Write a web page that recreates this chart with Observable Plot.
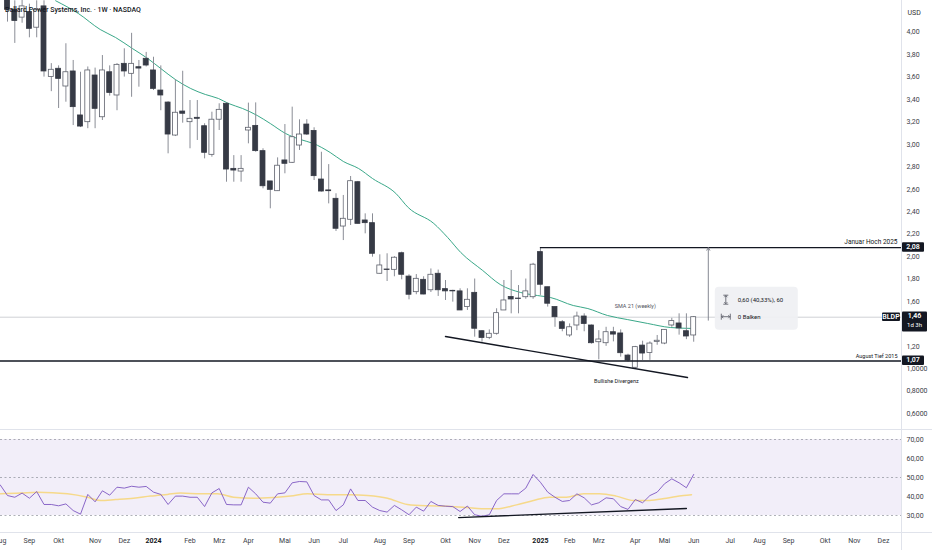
<!DOCTYPE html>
<html><head><meta charset="utf-8">
<script src="https://cdn.jsdelivr.net/npm/d3@7"></script>
<script src="https://cdn.jsdelivr.net/npm/@observablehq/plot@0.6"></script>
<style>
body{margin:0;background:#fff;font-family:Roboto,sans-serif;}
#wrap{position:relative;width:932px;height:550px;overflow:hidden;background:#fff;}
#price{position:absolute;left:0;top:0;}
#rsi{position:absolute;left:0;top:430px;}
#title{position:absolute;left:5px;top:6px;font-size:7px;line-height:8px;font-weight:500;color:#131722;white-space:nowrap;}
.sep{position:absolute;background:#e0e3eb;}
</style></head><body>
<div id="wrap">
  <div class="sep" style="left:0;top:429px;width:932px;height:1px"></div>
  <div class="sep" style="left:0;top:532px;width:932px;height:1px"></div>
  <div class="sep" style="left:901px;top:0;width:1px;height:550px"></div>
  <div id="price"></div>
  <div id="rsi"></div>
  <div id="title">Ballard Power Systems, Inc. · 1W · NASDAQ</div>
</div>
<script>
// ---------- data ----------
const firstWeek = "2023-08-14"; // Monday of the first visible weekly candle
const opens  = [4.30,4.20,4.13,4.18,4.04,4.23,3.60,3.674,3.516,3.65,3.258,3.198,3.614,3.242,3.643,3.436,3.718,3.629,3.688,3.763,3.659,3.48,3.373,3.079,3.293,3.198,3.237,3.162,2.907,3.22,3.362,2.782,2.758,3.124,3.165,2.94,2.67,2.583,2.857,2.836,2.99,3.177,3.12,2.687,2.59,2.515,2.268,2.328,2.663,2.322,2.298,1.847,1.885,1.882,2.03,1.822,1.683,1.793,1.70,1.847,1.71,1.695,1.69,1.55,1.677,1.335,1.276,1.312,1.52,1.64,1.626,1.638,1.638,2.04,1.727,1.55,1.415,1.297,1.386,1.466,1.386,1.237,1.228,1.326,1.315,1.118,1.009,1.207,1.14,1.24,1.225,1.386,1.404,1.335,1.297];
const highs  = [4.36,4.28,4.30,4.25,4.28,4.28,3.72,3.70,3.897,3.748,3.643,3.69,3.68,3.792,3.70,3.72,3.852,3.99,3.748,3.82,3.777,3.70,3.38,3.576,3.652,3.391,3.391,3.184,3.287,3.362,3.37,2.90,2.90,3.368,3.37,2.961,2.67,2.88,3.177,3.332,3.219,3.22,3.148,2.93,2.82,2.56,2.545,2.714,2.67,2.381,2.381,2.016,2.025,2.0,2.04,1.838,1.84,1.82,1.89,1.88,1.787,1.70,1.713,1.713,1.80,1.34,1.347,1.535,1.787,1.876,1.742,1.80,1.94,2.08,1.727,1.55,1.43,1.40,1.505,1.49,1.39,1.34,1.37,1.37,1.347,1.13,1.20,1.246,1.24,1.297,1.35,1.45,1.49,1.49,1.466];
const lows   = [4.09,3.90,4.08,3.95,3.95,3.60,3.47,3.32,3.376,3.168,3.15,3.14,3.14,3.213,3.43,3.30,3.60,3.42,3.51,3.69,3.48,3.30,2.916,3.07,3.189,2.961,3.035,2.871,2.886,3.124,2.663,2.663,2.663,3.005,2.93,2.604,2.426,2.58,2.738,2.83,2.946,3.08,2.678,2.575,2.47,2.224,2.143,2.277,2.29,2.203,1.995,1.845,1.778,1.82,1.793,1.615,1.66,1.66,1.68,1.645,1.609,1.594,1.52,1.52,1.282,1.237,1.26,1.30,1.52,1.49,1.49,1.62,1.62,1.654,1.55,1.37,1.33,1.28,1.34,1.33,1.22,1.08,1.20,1.24,1.104,1.06,1.0,1.074,1.075,1.21,1.215,1.37,1.30,1.26,1.237];
const closes = [4.20,4.10,4.23,4.03,4.20,3.65,3.665,3.584,3.643,3.332,3.159,3.659,3.317,3.659,3.459,3.709,3.650,3.718,3.676,3.703,3.495,3.436,3.088,3.282,3.273,3.228,3.228,2.925,3.22,3.308,2.776,2.767,2.782,3.148,2.94,2.627,2.595,2.81,2.827,3.064,3.088,3.088,2.717,2.58,2.583,2.248,2.337,2.672,2.292,2.298,2.025,1.921,1.88,1.99,1.838,1.66,1.802,1.662,1.838,1.70,1.69,1.69,1.52,1.615,1.357,1.275,1.312,1.496,1.609,1.618,1.622,1.69,1.928,1.749,1.58,1.46,1.356,1.37,1.466,1.40,1.228,1.261,1.326,1.305,1.139,1.074,1.193,1.136,1.225,1.25,1.347,1.425,1.36,1.288,1.46];

// SMA 21 (weekly): week offset from firstWeek, value
const smaWeeks  = [6.6,9.7,12.7,14.8,17.1,19.2,21.0,23.0,25.1,27.1,28.9,30.3,32.2,34.2,36.0,38.1,40.1,41.9,44.2,46.0,48.1,50.0,53.2,54.9,58.4,60.3,62.1,65.1,67.5,70.3,72.6,74.4,77.5,79.5,82.2,84.9,87.7,90.8,93.6];
const smaValues = [4.28,4.167,4.024,3.953,3.855,3.766,3.676,3.578,3.498,3.445,3.409,3.364,3.320,3.258,3.186,3.097,3.044,3.008,2.928,2.848,2.785,2.696,2.563,2.437,2.295,2.17,2.036,1.876,1.751,1.68,1.653,1.635,1.564,1.537,1.475,1.439,1.404,1.368,1.36];

// RSI (14) per week, first value belongs to week -1
const rsiFirstWeek = -1;
const rsiValues = [46.1,40.5,39.6,41.8,39.1,42.6,35.8,35.8,35.1,36.1,32.6,30.7,41.1,37.2,43.0,40.7,44.9,44.4,45.4,44.9,45.3,42.3,41.1,35.8,40.2,40.2,39.6,39.6,34.7,41.9,44.2,35.8,35.6,35.6,44.9,41.4,37.0,36.5,41.4,41.9,47.2,47.9,47.7,40.5,38.2,38.2,32.6,35.6,44.0,37.9,37.9,34.4,32.6,31.8,35.3,33.0,30.4,34.4,32.3,37.4,35.3,34.9,34.7,32.1,35.0,30.4,29.6,30.4,37.9,41.4,41.4,41.4,44.4,51.6,47.5,42.3,39.6,37.4,37.9,41.4,39.3,35.6,36.7,39.3,38.8,34.7,33.2,38.4,36.7,40.5,42.3,46.7,49.3,47.2,44.6,51.6];
// RSI moving average
const rsiMaWeeks  = [-0.96,1.78,4.11,8.22,10.96,12.74,14.79,17.26,19.59,21.92,23.7,26.44,28.77,30.96,33.7,36.44,38.77,41.1,43.84,46.99,49.32,52.05,54.79,57.53,60.27,62.88,64.93,66.99,69.73,72.05,74.25,76.58,78.9,81.1,83.4,85.75,87.95,90.27,92.6,93.7];
const rsiMaValues = [41.4,41.8,42.3,41.4,39.6,37.9,38.4,39.1,40.2,41.1,41.8,41.4,41.4,39.6,39.1,39.5,40.2,41.4,40.9,40.9,40.5,39.1,35.8,35.1,34.9,34.2,33.5,33.5,35.6,37.9,39.6,39.6,41.4,41.4,40.2,37.9,37.9,39.1,40.5,40.9];

// annotations
const janHigh = 2.08, janHighWeek = 73;
const augLow = 1.07;
const lastPrice = 1.46;
const measureWeek = 96;
const divWeeks = [60.0, 93.15], divPrices = [1.288, 0.922];
const rsiDivWeeks = [61.8, 93.0], rsiDivValues = [28.9, 33.7];
const rsiLevels = [70, 50, 30];

// ticks
const priceTicks = [4.0,3.8,3.6,3.4,3.2,3.0,2.8,2.6,2.4,2.2,2.0,1.8,1.6,1.2,1.0,0.8,0.6];
const priceTickLabels = ["4,00","3,80","3,60","3,40","3,20","3,00","2,80","2,60","2,40","2,20","2,00","1,80","1,60","1,20","1,0000","0,8000","0,6000"];
const rsiTicks = [70,60,50,40,30];
const rsiTickLabels = ["70,00","60,00","50,00","40,00","30,00"];
const monthTickDates = ["2023-08-07","2023-09-04","2023-10-02","2023-11-06","2023-12-04","2024-01-01","2024-02-05","2024-03-04","2024-04-01","2024-05-06","2024-06-03","2024-07-01","2024-08-05","2024-09-02","2024-10-07","2024-11-04","2024-12-02","2025-01-06","2025-02-03","2025-03-03","2025-04-07","2025-05-05","2025-06-02","2025-07-07","2025-08-04","2025-09-01","2025-10-06","2025-11-03","2025-12-01"];
const monthTickLabels = ["Aug","Sep","Okt","Nov","Dez","2024","Feb","Mrz","Apr","Mai","Jun","Jul","Aug","Sep","Okt","Nov","Dez","2025","Feb","Mrz","Apr","Mai","Jun","Jul","Aug","Sep","Okt","Nov","Dez"];

// ---------- helpers ----------
const t0 = Date.parse(firstWeek + "T00:00:00Z");
const WEEK = 7 * 864e5;
const wk = w => new Date(t0 + w * WEEK);
const W = 932, PLOT_RIGHT = 901, PX_PER_WEEK = 7.3, FIRST_X = 7;
const xDomain = [wk(-FIRST_X / PX_PER_WEEK), wk((PLOT_RIGHT - FIRST_X) / PX_PER_WEEK)];
const halfBody = 0.34;

const candles = opens.map((o, i) => ({
  date: wk(i), x1: wk(i - halfBody), x2: wk(i + halfBody),
  open: o, high: highs[i], low: lows[i], close: closes[i], up: closes[i] >= o
}));
const sma = smaWeeks.map((w, i) => ({date: wk(w), v: smaValues[i]}));
const rsi = rsiValues.map((v, i) => ({date: wk(rsiFirstWeek + i), v}));
const rsiMa = rsiMaWeeks.map((w, i) => ({date: wk(w), v: rsiMaValues[i]}));
const div = divWeeks.map((w, i) => ({date: wk(w), v: divPrices[i]}));
const rsiDiv = rsiDivWeeks.map((w, i) => ({date: wk(w), v: rsiDivValues[i]}));
const tickDates = monthTickDates.map(s => new Date(s + "T00:00:00Z"));
const tickLabelMap = new Map(tickDates.map((d, i) => [+d, monthTickLabels[i]]));

const FONT = "Roboto, 'Noto Sans', sans-serif";
const DARK = "#363a45", WICK = "#8a8d96";

// price scale geometry: 4,00 at 31.7px, 112.2px per 1.00
const yTopPrice = 4 + 31.7 / 112.2;
const yBottomPrice = 4 - (430 - 31.7) / 112.2;

// point on divergence line for its label
const divLabelWeek = 83.4;
const divLabelPrice = divPrices[0] + (divPrices[1] - divPrices[0]) * (divLabelWeek - divWeeks[0]) / (divWeeks[1] - divWeeks[0]);
const smaLabelIdx = smaWeeks.findIndex(w => w >= 84.9);

const price = Plot.plot({
  width: W, height: 430,
  marginLeft: 0, marginRight: W - PLOT_RIGHT, marginTop: 0, marginBottom: 0,
  style: {fontFamily: FONT, fontSize: "7px", color: "#333", background: "transparent", overflow: "visible"},
  x: {type: "utc", domain: xDomain, axis: null},
  y: {domain: [yBottomPrice, yTopPrice], axis: null},
  marks: [
    Plot.ruleY([lastPrice], {stroke: "#cfd1d6", strokeWidth: 1}),
    Plot.line(sma, {x: "date", y: "v", stroke: "#3aa889", strokeWidth: 1, curve: "monotone-x", clip: true}),
    Plot.ruleX(candles, {x: "date", y1: "low", y2: "high", stroke: WICK, strokeWidth: 1, clip: true}),
    Plot.rect(candles, {x1: "x1", x2: "x2", y1: "open", y2: "close",
      fill: d => d.up ? "#ffffff" : DARK, stroke: d => d.up ? "#5d606b" : DARK, strokeWidth: 0.8, clip: true}),
    Plot.ruleY([janHigh], {x1: () => wk(janHighWeek), x2: () => xDomain[1], stroke: "#131722", strokeWidth: 1.4}),
    Plot.ruleY([augLow], {stroke: "#131722", strokeWidth: 1.4}),
    Plot.line(div, {x: "date", y: "v", stroke: "#131722", strokeWidth: 1.4}),
    Plot.arrow([{w: wk(measureWeek), a: lastPrice, b: janHigh}], {x1: "w", x2: "w", y1: "a", y2: "b",
      stroke: "#787b86", strokeWidth: 0.9, headLength: 5, insetStart: -3}),
    Plot.text(["Januar Hoch 2025"], {x: () => xDomain[1], y: () => janHigh, text: d => d,
      textAnchor: "end", dx: -4, dy: -6, fontSize: 6.5, fill: "#131722"}),
    Plot.text(["August Tief 2015"], {x: () => xDomain[1], y: () => augLow, text: d => d,
      textAnchor: "end", dx: -4, dy: -5, fontSize: 5.5, fill: "#131722"}),
    Plot.text(["SMA 21 (weekly)"], {x: () => wk(86), y: () => smaValues[smaLabelIdx], text: d => d,
      dy: -13, fontSize: 5.5, fill: "#50535e"}),
    Plot.text(["Bullishe Divergenz"], {x: () => wk(divLabelWeek), y: () => divLabelPrice, text: d => d,
      dy: 16, fontSize: 5.5, fill: "#131722"}),
    Plot.text(["USD"], {frameAnchor: "top-right", text: d => d, textAnchor: "start", dx: 6, dy: 10, fontSize: 7, fill: "#333"}),
    Plot.axisY(priceTicks, {anchor: "right", tickSize: 0, tickPadding: 5, fontSize: 7, fill: "#3b3e47",
      tickFormat: d => priceTickLabels[priceTicks.indexOf(d)]})
  ]
});
document.getElementById("price").appendChild(price);

// badges & measure tooltip drawn through the plot's scales
const syObj = price.scale("y"), sxObj = price.scale("x");
const Y = v => syObj.apply ? syObj.apply(v) : d3.scaleLinear(syObj.domain, syObj.range)(v);
const X = v => sxObj.apply ? sxObj.apply(v) : d3.scaleUtc(sxObj.domain, sxObj.range)(v);
const svg = d3.select(price);
function badge(yc, lines, x0, w, top, h) {
  const g = svg.append("g");
  g.append("rect").attr("x", x0).attr("y", yc + top).attr("width", w).attr("height", h)
    .attr("rx", 1).attr("fill", "#131722");
  lines.forEach((t, i) => {
    g.append("text").attr("x", x0 + w / 2).attr("y", yc + top + 6.7 + i * 9)
      .attr("text-anchor", "middle").attr("fill", "#fff")
      .attr("font-size", i ? 6 : 7).attr("font-weight", i ? 400 : 600)
      .attr("font-family", FONT).text(t);
  });
}
badge(Y(janHigh), ["2,08"], PLOT_RIGHT + 1, 22, -4.8, 9.5);
badge(Y(lastPrice), ["1,46", "1d 3h"], PLOT_RIGHT + 1, 25, -5.3, 20);
badge(Y(augLow), ["1,07"], PLOT_RIGHT + 1, 22, -5, 9.5);
badge(Y(lastPrice), ["BLDP"], PLOT_RIGHT - 19, 18, -4.3, 8.5);

// measure tool tooltip
const mx = X(wk(measureWeek)) + 7, my = Y(lastPrice) - 30;
const tip = svg.append("g").attr("font-family", FONT).attr("fill", "#131722").attr("text-anchor", "start");
tip.append("rect").attr("x", mx).attr("y", my).attr("width", 83).attr("height", 43).attr("rx", 4)
  .attr("fill", "#eff0f3").attr("fill-opacity", 0.92);
const ic = tip.append("g").attr("stroke", "#50535e").attr("stroke-width", 0.8).attr("fill", "none");
// vertical-range icon
const ix = mx + 11, iy = my + 13;
ic.append("path").attr("d", `M${ix-2.5},${iy-4.5}H${ix+2.5}M${ix-2.5},${iy+4.5}H${ix+2.5}M${ix},${iy-4}V${iy+4}M${ix-1.5},${iy-2.5}L${ix},${iy-4}L${ix+1.5},${iy-2.5}M${ix-1.5},${iy+2.5}L${ix},${iy+4}L${ix+1.5},${iy+2.5}`);
// bar-range icon
const jx = mx + 11, jy = my + 30;
ic.append("path").attr("d", `M${jx-4.5},${jy-3}V${jy+3}M${jx+4.5},${jy-3}V${jy+3}M${jx-4},${jy}H${jx+4}M${jx-2.5},${jy-1.5}L${jx-4},${jy}L${jx-2.5},${jy+1.5}M${jx+2.5},${jy-1.5}L${jx+4},${jy}L${jx+2.5},${jy+1.5}`);
tip.append("text").attr("x", mx + 23).attr("y", my + 15.2).attr("font-size", 6).text("0,60 (40,33%), 60");
tip.append("text").attr("x", mx + 23).attr("y", my + 32.2).attr("font-size", 6).text("0 Balken");

// ---------- RSI panel ----------
const rsiTopVal = 70 + 9 / 1.9, rsiBottomVal = 30 - 17 / 1.9;
const rsiPlot = Plot.plot({
  width: W, height: 120,
  marginLeft: 0, marginRight: W - PLOT_RIGHT, marginTop: 0, marginBottom: 18,
  style: {fontFamily: FONT, fontSize: "7px", color: "#333", background: "transparent", overflow: "visible"},
  x: {type: "utc", domain: xDomain},
  y: {domain: [rsiBottomVal, rsiTopVal], axis: null},
  marks: [
    Plot.rect([{lo: d3.min(rsiLevels), hi: d3.max(rsiLevels)}], {y1: "lo", y2: "hi", fill: "#7e57c2", fillOpacity: 0.1}),
    Plot.ruleY(rsiLevels, {stroke: "#8c8f99", strokeWidth: 0.7, strokeDasharray: "2,2.5"}),
    Plot.line(rsiMa, {x: "date", y: "v", stroke: "#f6d98a", strokeWidth: 1.5, curve: "monotone-x", clip: true}),
    Plot.line(rsi, {x: "date", y: "v", stroke: "#7e57c2", strokeWidth: 0.9, clip: true}),
    Plot.line(rsiDiv, {x: "date", y: "v", stroke: "#131722", strokeWidth: 1.4}),
    Plot.axisY(rsiTicks, {anchor: "right", tickSize: 0, tickPadding: 5, fontSize: 7, fill: "#3b3e47",
      tickFormat: d => rsiTickLabels[rsiTicks.indexOf(d)]}),
    Plot.axisX(tickDates, {anchor: "bottom", tickSize: 0, tickPadding: 6, fontSize: 7, fill: "#3b3e47",
      tickFormat: d => tickLabelMap.get(+d)})
  ]
});
document.getElementById("rsi").appendChild(rsiPlot);
d3.select(rsiPlot).selectAll("text").filter(function () { return /^\d{4}$/.test(this.textContent); })
  .attr("font-weight", 700).attr("fill", "#131722");
</script>
</body></html>
